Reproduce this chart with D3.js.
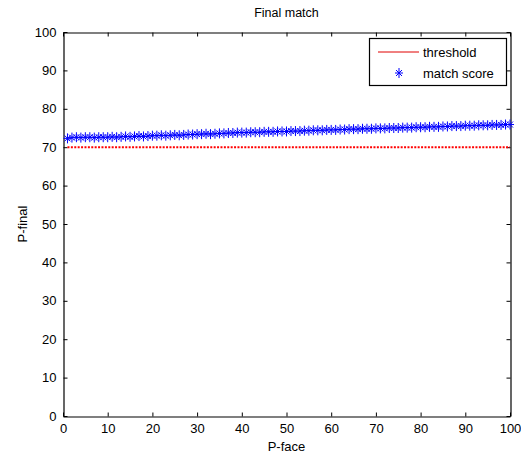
<!DOCTYPE html>
<html>
<head>
<meta charset="utf-8">
<script src="https://cdn.jsdelivr.net/npm/d3@7"></script>
<style>
  body { margin: 0; background: #fff; }
  text { font-family: "Liberation Sans", Arial, sans-serif; }
  .tick text { font-size: 13px; fill: #000; }
</style>
</head>
<body>
<div id="chart"></div>
<script>
// x values (P-face)
const pFace = d3.range(1, 101);
// match score
const matchScore = [
  72.3, 72.5, 72.6, 72.5, 72.6, 72.6, 72.5, 72.6, 72.6, 72.6,
  72.7, 72.6, 72.7, 72.8, 72.7, 72.8, 72.9, 72.8, 72.9, 73.0,
  73.0, 73.1, 73.0, 73.1, 73.2, 73.1, 73.2, 73.3, 73.3, 73.4,
  73.4, 73.5, 73.4, 73.5, 73.6, 73.6, 73.7, 73.7, 73.8, 73.8,
  73.8, 73.9, 73.9, 73.9, 74.0, 74.0, 74.0, 74.1, 74.1, 74.1,
  74.2, 74.2, 74.2, 74.3, 74.3, 74.4, 74.4, 74.4, 74.5, 74.5,
  74.5, 74.6, 74.6, 74.7, 74.7, 74.7, 74.8, 74.8, 74.8, 74.9,
  74.9, 74.9, 75.0, 75.0, 75.0, 75.1, 75.1, 75.1, 75.2, 75.2,
  75.2, 75.3, 75.3, 75.3, 75.4, 75.4, 75.5, 75.5, 75.5, 75.6,
  75.6, 75.6, 75.7, 75.7, 75.7, 75.8, 75.8, 75.8, 75.9, 75.9
];
const threshold = 70;
const xTicks = [0, 10, 20, 30, 40, 50, 60, 70, 80, 90, 100];
const yTicks = [0, 10, 20, 30, 40, 50, 60, 70, 80, 90, 100];

const width = 521, height = 455;
const mLeft = 63, mRight = 510, mTop = 32, mBottom = 416;

const svg = d3.select('#chart').append('svg')
  .attr('width', width)
  .attr('height', height);

const x = d3.scaleLinear().domain([0, 100]).range([mLeft, mRight]);
const y = d3.scaleLinear().domain([0, 100]).range([mBottom, mTop]);

// axes, ticks pointing inwards on all four sides
const tk = 4;
svg.append('g').attr('transform', `translate(0,${mBottom + 0.5})`)
  .call(d3.axisBottom(x).tickValues(xTicks).tickSizeInner(-tk).tickSizeOuter(0).tickPadding(7));
svg.append('g').attr('transform', `translate(0,${mTop + 0.5})`)
  .call(d3.axisTop(x).tickValues(xTicks).tickSizeInner(-tk).tickSizeOuter(0).tickFormat(''));
svg.append('g').attr('transform', `translate(${mLeft + 0.5},0)`)
  .call(d3.axisLeft(y).tickValues(yTicks).tickSizeInner(-tk).tickSizeOuter(0).tickPadding(7));
svg.append('g').attr('transform', `translate(${mRight + 0.5},0)`)
  .call(d3.axisRight(y).tickValues(yTicks).tickSizeInner(-tk).tickSizeOuter(0).tickFormat(''));
svg.selectAll('.domain').attr('stroke', '#000').attr('stroke-width', 1.2);
svg.selectAll('.tick line').attr('stroke', '#000');

// threshold line
svg.append('line')
  .attr('x1', x(pFace[0])).attr('x2', x(pFace[pFace.length - 1]))
  .attr('y1', y(threshold)).attr('y2', y(threshold))
  .attr('stroke', '#ff0000').attr('stroke-width', 2)
  .attr('stroke-dasharray', '2,1.4');

// star markers
const star = 'M-4,0H4M0,-5V5M-3,-3L3,3M-3,3L3,-3';
svg.selectAll('.pt').data(matchScore).join('path')
  .attr('class', 'pt')
  .attr('transform', (d, i) => `translate(${x(pFace[i])},${y(d)})`)
  .attr('d', star)
  .attr('fill', 'none')
  .attr('stroke', '#0000ff')
  .attr('stroke-width', 1);

// legend
const lg = svg.append('g');
lg.append('rect').attr('x', 369.5).attr('y', 38.5).attr('width', 137).attr('height', 47)
  .attr('fill', '#fff').attr('stroke', '#000').attr('stroke-width', 1.2);
lg.append('line').attr('x1', 378).attr('x2', 419).attr('y1', 52).attr('y2', 52)
  .attr('stroke', '#e00000').attr('stroke-width', 1);
lg.append('text').attr('x', 423).attr('y', 57).attr('font-size', 13).text('threshold');
lg.append('path').attr('d', star).attr('transform', 'translate(399,73)')
  .attr('fill', 'none').attr('stroke', '#0000ff');
lg.append('text').attr('x', 423).attr('y', 78).attr('font-size', 13).text('match score');

// title and labels
svg.append('text').attr('x', (mLeft + mRight) / 2).attr('y', 17)
  .attr('text-anchor', 'middle').attr('font-size', 12.5).text('Final match');
svg.append('text').attr('x', (mLeft + mRight) / 2).attr('y', 451)
  .attr('text-anchor', 'middle').attr('font-size', 13).text('P-face');
svg.append('text').attr('transform', `translate(27,${(mTop + mBottom) / 2}) rotate(-90)`)
  .attr('text-anchor', 'middle').attr('font-size', 13).text('P-final');
</script>
</body>
</html>
